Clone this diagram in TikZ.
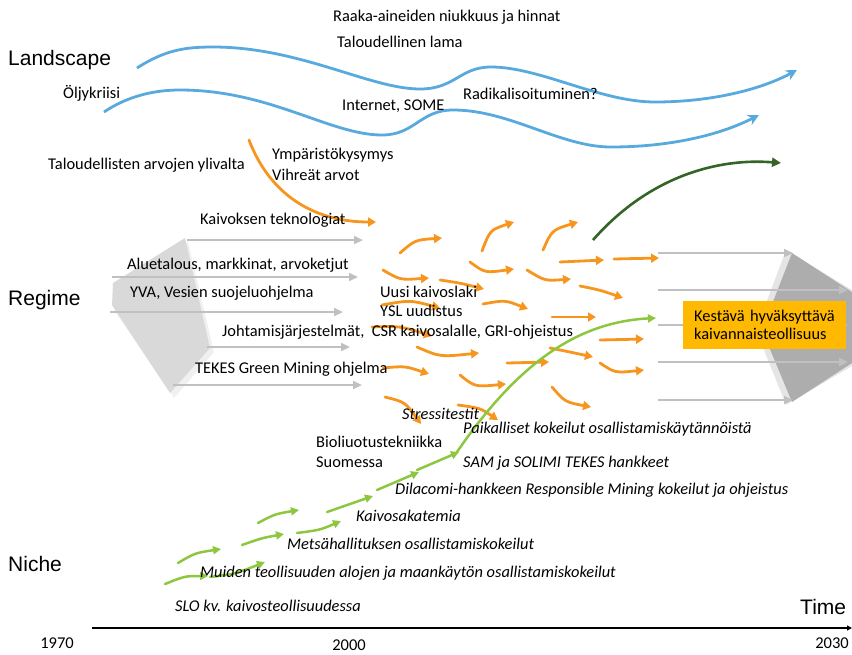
\documentclass[tikz,border=0pt]{standalone}
\usepackage{fontspec}
\setmainfont{Carlito}
\newfontfamily\arialf{Liberation Sans}
\usetikzlibrary{arrows.meta}
\definecolor{orarr}{RGB}{247,150,30}
\definecolor{bluew}{RGB}{88,170,222}
\definecolor{lgreen}{RGB}{141,198,63}
\definecolor{dgreen}{RGB}{52,100,38}
\definecolor{garr}{RGB}{192,192,196}
\definecolor{goalbox}{RGB}{255,185,0}
\begin{document}
\begin{tikzpicture}[x=1pt,y=-1pt,
  font=\fontsize{16.4}{19}\selectfont,
  lbl/.style={anchor=west,inner sep=0pt},
  ilbl/.style={anchor=west,inner sep=0pt,font=\fontsize{16.4}{19}\selectfont\itshape},
  biglbl/.style={anchor=west,inner sep=0pt,font=\arialf\fontsize{21}{24}\selectfont},
  yearlbl/.style={anchor=center,inner sep=0pt,font=\fontsize{16.5}{19}\selectfont},
  wave/.style={draw=bluew,line width=2.8pt,-{Stealth[length=11pt,width=11pt]}},
  oarrow/.style={draw=orarr,line width=2.8pt,line cap=round,-{Triangle[length=8pt,width=9pt]}},
  garrow/.style={draw=lgreen,line width=2.5pt,line cap=round,-{Triangle[length=8pt,width=8pt]}},
  grayarrow/.style={draw=garr,line width=2.2pt,-{Triangle[length=9pt,width=8pt]}},
]
\useasboundingbox (0,0) rectangle (852,654);

% ---------------- gray shapes ----------------
\fill[black!6] (116,287) -- (188,242) -- (214,352) -- (174,398) -- (114,310) -- cycle;
\fill[black!15] (113,283) -- (185,238) -- (210,348) -- (170,393) -- (112,305) -- cycle;
\fill[black!10] (786,250) -- (852,290) -- (852,366) -- (786,405) -- (756,330) -- cycle;
\fill[black!32] (792,253) -- (852,292) -- (852,363) -- (792,402) -- (762,330) -- cycle;

% ---------------- gray arrows ----------------
\draw[grayarrow] (187,240) -- (363,240);
\draw[grayarrow] (112,277) -- (358,277);
\draw[grayarrow] (110,312) -- (343,312);
\draw[grayarrow] (207,347) -- (350,347);
\draw[grayarrow] (173,385) -- (362,385);
\draw[grayarrow] (658,253) -- (793,253);
\draw[grayarrow] (658,290) -- (848,290);
\draw[grayarrow] (658,325) -- (848,325);
\draw[grayarrow] (658,362) -- (848,362);
\draw[grayarrow] (658,400) -- (793,400);

% ---------------- goal box ----------------
\node[fill=goalbox,minimum width=163pt,minimum height=48pt,inner sep=0pt,anchor=north west,
      align=left,text width=141pt] (goal) at (683,301)
  {Kestävä hyväksyttävä\\[-1pt]kaivannaisteollisuus};

% ---------------- landscape waves ----------------
\draw[wave] (137,68) .. controls (165,50) and (185,47) .. (213,47)
  .. controls (300,47) and (370,89) .. (420,89)
  .. controls (455,89) and (460,67) .. (491,67)
  .. controls (540,67) and (600,102) .. (655,102)
  .. controls (710,102) and (760,90) .. (797,70);
\draw[wave] (104,112) .. controls (125,98) and (150,90) .. (180,90)
  .. controls (270,90) and (330,135) .. (382,135)
  .. controls (415,135) and (420,110) .. (453,110)
  .. controls (510,110) and (560,147) .. (611,147)
  .. controls (670,147) and (720,135) .. (759,115);

% ---------------- dark green arrow ----------------
\draw[draw=dgreen,line width=2.6pt,-{Triangle[length=9pt,width=9pt]}]
  (593,240) .. controls (650,175) and (720,158) .. (781,163);

% ---------------- orange arrows ----------------
\draw[oarrow] (249,140) .. controls (272,200) and (320,222) .. (376,222);
\draw[oarrow] (400,253) .. controls (415,240) .. (442,238);
\draw[oarrow] (482,251) .. controls (490,230) .. (514,222);
\draw[oarrow] (543,250) .. controls (552,230) .. (578,222);
\draw[oarrow] (383,270) .. controls (400,280) .. (429,278);
\draw[oarrow] (440,280) .. controls (460,283) .. (484,289);
\draw[oarrow] (470,262) .. controls (485,273) .. (514,269);
\draw[oarrow] (527,270) .. controls (545,281) .. (571,279);
\draw[oarrow] (560,262) -- (604,260);
\draw[oarrow] (614,259) -- (659,258);
\draw[oarrow] (580,286) .. controls (600,290) .. (623,298);
\draw[oarrow] (382,305) .. controls (410,300) .. (440,308);
\draw[oarrow] (483,304) .. controls (505,300) .. (528,309);
\draw[oarrow] (552,317) -- (596,317);
\draw[oarrow] (600,340) -- (644,339);
\draw[oarrow] (372,327) .. controls (400,326) .. (432,336);
\draw[oarrow] (417,347) .. controls (440,357) .. (479,353);
\draw[oarrow] (550,348) .. controls (570,352) .. (593,357);
\draw[oarrow] (600,363) .. controls (615,373) .. (644,370);
\draw[oarrow] (507,363) -- (549,362);
\draw[oarrow] (460,375) .. controls (475,387) .. (506,384);
\draw[oarrow] (383,368) .. controls (405,366) .. (429,374);
\draw[oarrow] (552,387) .. controls (565,402) .. (591,407);
\draw[oarrow] (385,397) .. controls (405,402) .. (421,424);
\draw[oarrow] (458,405) .. controls (480,408) .. (498,420);

% ---------------- light green arrows ----------------
\draw[garrow] (165,584) .. controls (185,576) .. (208,576);
\draw[garrow] (210,577) .. controls (235,574) .. (265,562);
\draw[garrow] (178,563) .. controls (195,553) .. (221,549);
\draw[garrow] (242,545) .. controls (262,538) .. (284,534);
\draw[garrow] (258,523) .. controls (275,514) .. (299,510);
\draw[garrow] (297,533) .. controls (320,530) .. (341,521);
\draw[garrow] (327,512) -- (373,496);
\draw[garrow] (377,490) -- (419,472);
\draw[garrow] (417,470) -- (459,452);
\draw[garrow] (457,452) .. controls (520,360) and (580,322) .. (656,318);

% ---------------- texts ----------------
\node[lbl] (t1) at (333,17) {Raaka-aineiden niukkuus ja hinnat};
\node[lbl] (t2) at (337,42) {Taloudellinen lama};
\node[lbl] (t3) at (63,93) {Öljykriisi};
\node[lbl] (t4) at (342,106) {Internet, SOME};
\node[lbl] (t5) at (463,94) {Radikalisoituminen?};
\node[lbl] (t6) at (48,165) {Taloudellisten arvojen ylivalta};
\node[lbl] (t7) at (272,155) {Ympäristökysymys};
\node[lbl] (t8) at (272,175) {Vihreät arvot};

\node[lbl] (r1) at (200,220) {Kaivoksen teknologiat};
\node[lbl] (r2) at (127,265) {Aluetalous, markkinat, arvoketjut};
\node[lbl] (r3) at (130,293) {YVA, Vesien suojeluohjelma};
\node[lbl] (r4) at (380,292) {Uusi kaivoslaki};
\node[lbl] (r5) at (380,311) {YSL uudistus};
\node[lbl] (r6) at (222,332) {Johtamisjärjestelmät,\ \ CSR kaivosalalle, GRI-ohjeistus};
\node[lbl] (r7) at (195,369) {TEKES Green Mining ohjelma};

\node[ilbl] (n1) at (402,414) {Stressitestit};
\node[ilbl] (n2) at (463,429) {Paikalliset kokeilut osallistamiskäytännöistä};
\node[lbl] (n3) at (316,442) {Bioliuotustekniikka};
\node[lbl] (n4) at (316,462) {Suomessa};
\node[ilbl] (n5) at (463,463) {SAM ja SOLIMI TEKES hankkeet};
\node[ilbl] (n6) at (395,490) {Dilacomi-hankkeen Responsible Mining kokeilut ja ohjeistus};
\node[ilbl] (n7) at (356,516) {Kaivosakatemia};
\node[ilbl] (n8) at (287,544) {Metsähallituksen osallistamiskokeilut};
\node[ilbl] (n9) at (200,573) {Muiden teollisuuden alojen ja maankäytön osallistamiskokeilut};
\node[ilbl] (n10) at (175,606) {SLO kv. kaivosteollisuudessa};

\node[biglbl] (landscape) at (8,60) {Landscape};
\node[biglbl] (regime) at (8,300) {Regime};
\node[biglbl] (niche) at (8,564) {Niche};
\node[biglbl] (time) at (800,607) {Time};

% ---------------- time axis ----------------
\coordinate (axs) at (92,628);
\coordinate (axe) at (852,628);
\draw[line width=1.2pt,-{Triangle[length=5pt,width=5pt]}] (axs) -- (axe);
\node[yearlbl] (y1) at (57,643) {1970};
\node[yearlbl] (y2) at (349,645) {2000};
\node[yearlbl] (y3) at (832,643) {2030};
\end{tikzpicture}
\end{document}
